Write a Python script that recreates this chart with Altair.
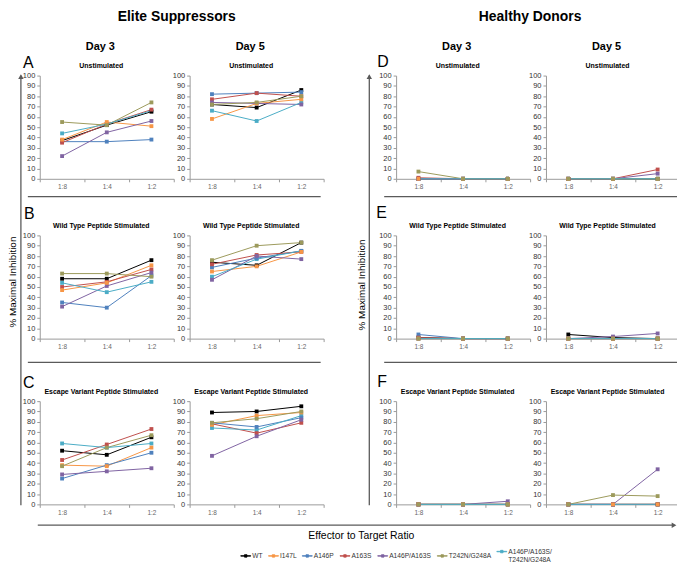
import altair as alt
import pandas as pd

FONT = "Liberation Sans"

ratios = ["1:8", "1:4", "1:2"]
series = ["WT", "I147L", "A146P", "A163S", "A146P/A163S", "T242N/G248A",
          "A146P/A163S/T242N/G248A"]
colors = ["#000000", "#F79646", "#4F81BD", "#C0504D", "#8064A2", "#9C9A5C", "#4BACC6"]
draw_rank = [1, 5, 2, 3, 4, 6, 0]

# % maximal inhibition, one list per series (legend order), values at 1:8, 1:4, 1:2
es_d3_unstim = [[37, 52, 65], [38, 55, 51], [36, 36, 38], [35, 53, 67], [22, 45, 56], [55, 52, 74], [44, 53, 66]]
es_d5_unstim = [[72, 69, 86], [58, 73, 77], [82, 83, 84], [77, 83, 80], [74, 73, 72], [72, 74, 80], [66, 56, 74]]
es_d3_wt = [[58, 58, 76], [47, 54, 71], [35, 30, 61], [50, 55, 67], [31, 51, 64], [63, 63, 60], [54, 45, 55]]
es_d5_wt = [[74, 71, 93], [65, 70, 84], [69, 78, 85], [72, 81, 84], [57, 80, 77], [76, 90, 93], [60, 77, 85]]
es_d3_esc = [[52, 48, 65], [38, 37, 55], [25, 38, 50], [43, 58, 73], [29, 32, 35], [37, 55, 67], [59, 55, 59]]
es_d5_esc = [[89, 90, 95], [77, 86, 89], [79, 75, 84], [78, 69, 79], [47, 66, 82], [79, 83, 90], [74, 72, 86]]
hd_d3_unstim = [[0, 0, 0], [0, 0, 0], [0, 0, 0], [1, 0, 0], [0, 0, 0], [7, 0, 0], [0, 0, 0]]
hd_d5_unstim = [[0, 0, 0], [0, 0, 0], [0, 0, 0], [0, 0, 9], [0, 0, 5], [0, 0, 0], [0, 0, 0]]
hd_d3_wt = [[1, 0, 0], [0, 0, 0], [4, 0, 0], [1, 0, 0], [0, 0, 0], [0, 0, 0], [0, 0, 0]]
hd_d5_wt = [[4, 1, 0], [0, 0, 0], [0, 0, 0], [0, 0, 0], [0, 2, 5], [0, 0, 0], [0, 0, 0]]
hd_d3_esc = [[0, 0, 0], [0, 0, 0], [0, 0, 0], [0, 0, 0], [0, 0, 3], [0, 0, 0], [0, 0, 0]]
hd_d5_esc = [[0, 0, 0], [0, 0, 0], [0, 0, 0], [0, 0, 0], [0, 0, 34], [0, 9, 8], [0, 0, 0]]

panel_values = {
    "A3": es_d3_unstim, "A5": es_d5_unstim,
    "B3": es_d3_wt, "B5": es_d5_wt,
    "C3": es_d3_esc, "C5": es_d5_esc,
    "D3": hd_d3_unstim, "D5": hd_d5_unstim,
    "E3": hd_d3_wt, "E5": hd_d5_wt,
    "F3": hd_d3_esc, "F5": hd_d5_esc,
}

rows = []
for pid, vals in panel_values.items():
    for si, s in enumerate(series):
        for ri, r in enumerate(ratios):
            rows.append({"panel": pid, "series": s, "ratio": r,
                         "value": vals[si][ri], "ord": draw_rank[si]})
df = pd.DataFrame(rows)

W, H = 135, 104
LINE = "#5a5a5a"

cscale = alt.Scale(domain=series, range=colors)
LEG = alt.Legend(
    orient="none", legendX=202, legendY=474, direction="horizontal", title=None,
    symbolType="M-1,-0.05H1V0.05H-1Z M-0.25,-0.25H0.25V0.25H-0.25Z",
    symbolSize=100, symbolStrokeWidth=0.8, symbolOpacity=1,
    labelFont=FONT, labelFontSize=6.7, labelColor="#333333",
    columnPadding=3, labelOffset=1,
    labelExpr="datum.label == 'A146P/A163S/T242N/G248A' ? ['A146P/A163S/', 'T242N/G248A'] : datum.label",
)

X = alt.X("ratio:N", sort=ratios,
          scale=alt.Scale(type="band", domain=ratios, paddingInner=0, paddingOuter=0),
          axis=alt.Axis(title=None, tickBand="extent", labelAngle=0, tickSize=3,
                        labelPadding=2, labelFontSize=6.5, labelColor="#666666",
                        labelFont=FONT, domainColor="#9a9a9a", tickColor="#9a9a9a",
                        grid=False))
Y = alt.Y("value:Q", scale=alt.Scale(domain=[0, 100], nice=False, zero=True),
          axis=alt.Axis(title=None, values=list(range(0, 101, 10)), tickSize=3,
                        labelPadding=2, labelFontSize=7.5, labelColor="#333333",
                        labelFont=FONT, domainColor="#9a9a9a", tickColor="#9a9a9a",
                        grid=False))


def text(s, x, y, size, weight="normal", angle=0, align="center",
         baseline="alphabetic", color="#000000"):
    return alt.Chart(pd.DataFrame({"t": [s]})).mark_text(
        font=FONT, fontSize=size, fontWeight=weight, angle=angle, align=align,
        baseline=baseline, color=color,
    ).encode(x=alt.value(x), y=alt.value(y), text="t:N")


def rule(x1, x2, y1, y2, color=LINE, w=1.3, opacity=1):
    return alt.Chart(pd.DataFrame({"a": [0]})).mark_rule(
        color=color, strokeWidth=w, opacity=opacity,
    ).encode(x=alt.value(x1), x2=alt.value(x2), y=alt.value(y1), y2=alt.value(y2))


def tri(shape, x, y, size=30):
    return alt.Chart(pd.DataFrame({"a": [0]})).mark_point(
        shape=shape, filled=True, size=size, color=LINE, opacity=1,
    ).encode(x=alt.value(x), y=alt.value(y))


def spacer(w, h):
    return alt.Chart(pd.DataFrame({"a": [0]})).mark_point(opacity=0).encode(
        x=alt.value(0), y=alt.value(0)).properties(width=w, height=h)


def panel(pid, subtitle, extras):
    base = alt.Chart(df).transform_filter(alt.datum.panel == pid)
    lines = base.mark_line(strokeWidth=1).encode(
        x=X, y=Y, color=alt.Color("series:N", scale=cscale, legend=LEG))
    points = base.mark_square(size=15, opacity=1).encode(
        x=X, y=Y, color=alt.Color("series:N", scale=cscale, legend=LEG),
        order=alt.Order("ord:Q"))
    layers = [lines, points, text(subtitle, 62, -7.5, 7, "bold")] + extras
    return alt.layer(*layers).properties(width=W, height=H)


UN = "Unstimulated"
WTS = "Wild Type Peptide Stimulated"
ESC = "Escape Variant Peptide Stimulated"

A3 = panel("A3", UN, [
    rule(-32, -32, -66, -65, opacity=0),
    text("Elite Suppressors", 138, -55, 14, "bold"),
    text("Day 3", 61, -26, 11, "bold"),
    text("A", -17, -8, 16, align="left"),
    rule(-19, -19, 0, 433),
    tri("triangle-up", -19, 1),
    text("% Maximal Inhibition", -27, 208, 10, angle=270, baseline="middle"),
    rule(-12, 283, 122, 122),
])
A5 = panel("A5", UN, [text("Day 5", 61, -26, 11, "bold")])
B3 = panel("B3", WTS, [
    text("B", -16, -17, 16, align="left"),
    rule(-12, 283, 128, 128),
])
B5 = panel("B5", WTS, [])
C3 = panel("C3", ESC, [
    text("C", -17, -13, 16, align="left"),
    rule(-2, 638, 125, 125),
    tri("triangle-right", 639, 125),
    text("Effector to Target Ratio", 324, 139, 10.5),
])
C5 = panel("C5", ESC, [])

D3 = panel("D3", UN, [
    text("Healthy Donors", 135, -55, 14, "bold"),
    text("Day 3", 61, -26, 11, "bold"),
    text("D", -19, -9, 16, align="left"),
    rule(-27, -27, 0, 433),
    tri("triangle-up", -27, 1),
    text("% Maximal Inhibition", -34, 211, 10, angle=270, baseline="middle"),
    rule(-12, 290, 122, 122),
])
D5 = panel("D5", UN, [text("Day 5", 61, -26, 11, "bold")])
E3 = panel("E3", WTS, [
    text("E", -20, -18, 16, align="left"),
    rule(-12, 290, 128, 128),
])
E5 = panel("E5", WTS, [])
F3 = panel("F3", ESC, [text("F", -19, -14, 16, align="left")])
F5 = panel("F5", ESC, [])

GAP_COL = 41
cells = [
    A3, A5, spacer(GAP_COL, 1), D3, D5,
    spacer(1, 57), spacer(1, 1), spacer(1, 1), spacer(1, 1), spacer(1, 1),
    B3, B5, spacer(1, 1), E3, E5,
    spacer(1, 63), spacer(1, 1), spacer(1, 1), spacer(1, 1), spacer(1, 1),
    C3, C5, spacer(1, 1), F3, F5,
]

chart = alt.concat(
    *cells, columns=5, align="each", bounds="flush", center=False,
    spacing={"row": 0, "column": 16},
).properties(
    padding={"left": 0, "top": 0, "right": -8, "bottom": 0},
    background="white",
).configure_view(stroke=None)

chart.save("out.html", embed_options={"renderer": "svg", "actions": False})
